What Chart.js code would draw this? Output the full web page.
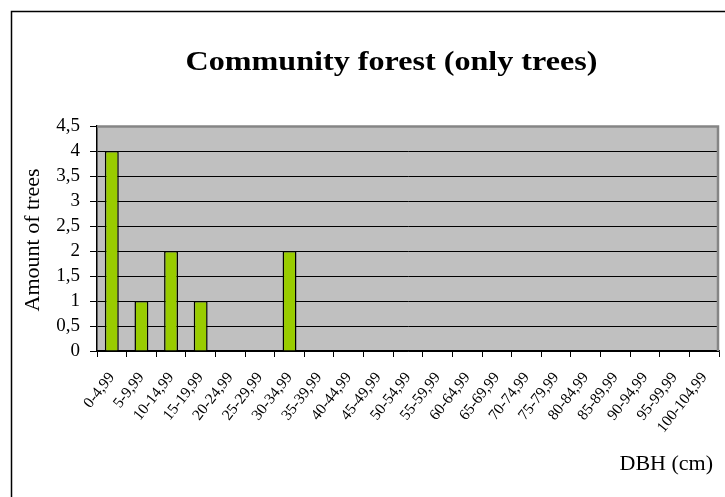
<!DOCTYPE html>
<html>
<head>
<meta charset="utf-8">
<script src="https://cdn.jsdelivr.net/npm/chart.js@4.4.0/dist/chart.umd.min.js"></script>
<style>
  html, body { margin: 0; padding: 0; background: #ffffff; }
  #wrap { width: 725px; height: 497px; }
</style>
</head>
<body>
<div id="wrap"><canvas id="c" width="725" height="497"></canvas></div>
<script>
// Diameter-at-breast-height classes (cm)
const dbhClasses = [
  '0-4,99', '5-9,99', '10-14,99', '15-19,99', '20-24,99', '25-29,99',
  '30-34,99', '35-39,99', '40-44,99', '45-49,99', '50-54,99', '55-59,99',
  '60-64,99', '65-69,99', '70-74,99', '75-79,99', '80-84,99', '85-89,99',
  '90-94,99', '95-99,99', '100-104,99'
];
// Number of trees per class
const treeCounts = [4, 1, 2, 1, 0, 0, 2, 0, 0, 0, 0, 0, 0, 0, 0, 0, 0, 0, 0, 0, 0];
// Value axis ticks
const yTicks = [0, 0.5, 1, 1.5, 2, 2.5, 3, 3.5, 4, 4.5];

const chartTitle = 'Community forest (only trees)';
const yTitle = 'Amount of trees';
const xTitle = 'DBH (cm)';

const SERIF = '"Liberation Serif", "Times New Roman", serif';

const decorPlugin = {
  id: 'decor',
  beforeDraw(chart) {
    const { ctx, chartArea: a } = chart;
    ctx.save();
    ctx.fillStyle = '#ffffff';
    ctx.fillRect(0, 0, chart.width, chart.height);
    ctx.fillStyle = '#c0c0c0';
    ctx.fillRect(a.left, a.top, a.right - a.left, a.bottom - a.top);
    ctx.restore();
  },
  afterDraw(chart) {
    const { ctx, chartArea: a } = chart;
    ctx.save();
    // outer frame
    ctx.strokeStyle = '#000000';
    ctx.lineWidth = 1.5;
    ctx.beginPath();
    ctx.moveTo(11.5, chart.height);
    ctx.lineTo(11.5, 11.5);
    ctx.lineTo(chart.width, 11.5);
    ctx.stroke();

    // plot area top/right edge
    ctx.strokeStyle = '#858585';
    ctx.lineWidth = 2.5;
    ctx.beginPath();
    ctx.moveTo(a.left, a.top + 0.5);
    ctx.lineTo(a.right - 1, a.top + 0.5);
    ctx.lineTo(a.right - 1, a.bottom);
    ctx.stroke();

    ctx.fillStyle = '#000000';
    // chart title
    ctx.save();
    ctx.font = 'bold 28px ' + SERIF;
    ctx.textAlign = 'center';
    ctx.textBaseline = 'alphabetic';
    ctx.translate(391.5, 70);
    ctx.scale(1.147, 1);
    ctx.fillText(chartTitle, 0, 0);
    ctx.restore();

    // value axis title
    ctx.save();
    ctx.font = '22px ' + SERIF;
    ctx.textAlign = 'center';
    ctx.textBaseline = 'middle';
    ctx.translate(33, 240);
    ctx.rotate(-Math.PI / 2);
    ctx.fillText(yTitle, 0, 0);
    ctx.restore();

    // category axis title
    ctx.font = '22px ' + SERIF;
    ctx.textAlign = 'right';
    ctx.textBaseline = 'alphabetic';
    ctx.fillText(xTitle, 713, 470);
    ctx.restore();
  }
};

new Chart(document.getElementById('c'), {
  type: 'bar',
  data: {
    labels: dbhClasses,
    datasets: [{
      data: treeCounts,
      backgroundColor: '#99cc00',
      borderColor: '#000000',
      borderWidth: 1.5,
      categoryPercentage: 1,
      barPercentage: 0.47
    }]
  },
  options: {
    responsive: false,
    animation: false,
    devicePixelRatio: 1,
    layout: { padding: { top: 126, right: 6, bottom: 0, left: 0 } },
    plugins: {
      legend: { display: false },
      tooltip: { enabled: false },
      title: { display: false }
    },
    scales: {
      x: {
        offset: true,
        grid: {
          offset: true,
          drawOnChartArea: false,
          drawTicks: true,
          tickLength: 6,
          color: '#000000',
          lineWidth: 1
        },
        border: { display: true, color: '#000000', width: 1.5 },
        ticks: {
          autoSkip: false,
          minRotation: 52,
          maxRotation: 52,
          padding: 12,
          color: '#000000',
          font: { family: SERIF, size: 15.5 }
        },
        afterFit(scale) {
          scale.height = 146;
          scale.paddingLeft = 0;
          scale.paddingRight = 0;
        }
      },
      y: {
        min: 0,
        max: 4.5,
        afterBuildTicks(scale) { scale.ticks = yTicks.map(v => ({ value: v })); },
        grid: {
          drawOnChartArea: true,
          drawTicks: true,
          tickLength: 7,
          color: '#000000',
          lineWidth: 1
        },
        border: { display: true, color: '#000000', width: 1.5 },
        ticks: {
          autoSkip: false,
          padding: 10,
          color: '#000000',
          font: { family: SERIF, size: 19 },
          callback: v => String(v).replace('.', ',')
        },
        afterFit(scale) { scale.width = 97; }
      }
    }
  },
  plugins: [decorPlugin]
});
</script>
</body>
</html>
